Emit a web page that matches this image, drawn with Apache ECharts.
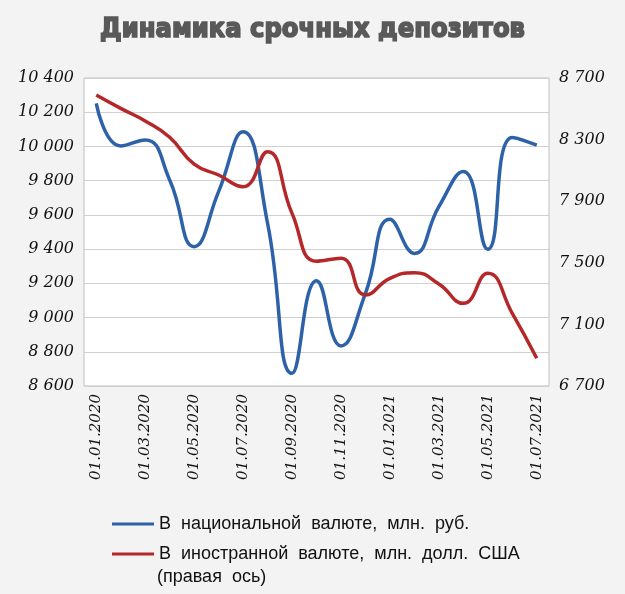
<!DOCTYPE html>
<html>
<head>
<meta charset="utf-8">
<script src="https://cdn.jsdelivr.net/npm/echarts@6/dist/echarts.min.js"></script>
<style>
html,body{margin:0;padding:0;background:#f3f3f3;}
#chart{width:625px;height:594px;}
</style>
</head>
<body>
<div id="chart"></div>
<script>
var titleText = 'Динамика срочных депозитов';
var categories = ['01.01.2020','01.02.2020','01.03.2020','01.04.2020','01.05.2020','01.06.2020','01.07.2020','01.08.2020','01.09.2020','01.10.2020','01.11.2020','01.12.2020','01.01.2021','01.02.2021','01.03.2021','01.04.2021','01.05.2021','01.06.2021','01.07.2021'];
var nationalName = 'В  национальной  валюте,  млн.  руб.';
var foreignName = 'В  иностранной  валюте,  млн.  долл.  США';
var foreignNote = '(правая  ось)';
var nationalValues = [10252, 10003, 10038, 9804, 9414, 9736, 10086, 9551, 8674, 9215, 8834, 9142, 9574, 9375, 9648, 9853, 9399, 10053, 10008];
var foreignValues = [8590, 8503, 8421, 8315, 8141, 8070, 7994, 8221, 7821, 7510, 7530, 7291, 7399, 7436, 7362, 7237, 7432, 7172, 6880];
var leftAxis = {min: 8600, max: 10400, interval: 200};
var rightAxis = {min: 6700, max: 8700, interval: 400};

function fmt(v){ return String(v).replace(/\B(?=(\d{3})+(?!\d))/g, ' '); }

var chart = echarts.init(document.getElementById('chart'));
var labelFont = {fontFamily: 'DejaVu Serif', fontStyle: 'italic', fontSize: 16, color: '#111'};
chart.setOption({
  backgroundColor: '#f3f3f3',
  animation: false,
  title: {
    text: titleText, left: 'center', top: 11,
    textStyle: {fontFamily: 'DejaVu Sans Condensed', fontWeight: 'bold', fontSize: 27, color: '#595959', textBorderColor: '#595959', textBorderWidth: 1.6}
  },
  grid: {left: 84, right: 76, top: 78, bottom: 208, show: true, backgroundColor: '#ffffff', borderColor: '#bfbfbf', borderWidth: 1},
  legend: {
    orient: 'vertical', left: 107, top: 510, itemWidth: 42, itemHeight: 3, itemGap: 12,
    icon: 'rect',
    textStyle: {fontFamily: 'Liberation Sans', fontSize: 18, color: '#111'},
    data: [nationalName, foreignName]
  },
  graphic: [{type: 'text', left: 157, top: 568, style: {text: foreignNote, font: '18px "Liberation Sans"', fill: '#111'}}],
  xAxis: {
    type: 'category', data: categories, boundaryGap: true,
    axisLine: {show: false}, axisTick: {show: false},
    axisLabel: Object.assign({rotate: 90, interval: 1, margin: 8}, labelFont, {fontSize: 15})
  },
  yAxis: [
    {type: 'value', min: leftAxis.min, max: leftAxis.max, interval: leftAxis.interval,
     axisLine: {show: false}, axisTick: {show: false},
     splitLine: {lineStyle: {color: '#d0d0d0', width: 1}},
     axisLabel: Object.assign({margin: 10, formatter: fmt}, labelFont)},
    {type: 'value', min: rightAxis.min, max: rightAxis.max, interval: rightAxis.interval,
     axisLine: {show: false}, axisTick: {show: false}, splitLine: {show: false},
     axisLabel: Object.assign({margin: 10, formatter: fmt}, labelFont)}
  ],
  series: [
    {name: nationalName, type: 'line', yAxisIndex: 0, data: nationalValues, smooth: 0.5, symbol: 'none',
     lineStyle: {color: '#2e62a8', width: 3.5}, itemStyle: {color: '#2e62a8'}},
    {name: foreignName, type: 'line', yAxisIndex: 1, data: foreignValues, smooth: 0.5, symbol: 'none',
     lineStyle: {color: '#b5282a', width: 3.5}, itemStyle: {color: '#b5282a'}}
  ]
});
</script>
</body>
</html>
